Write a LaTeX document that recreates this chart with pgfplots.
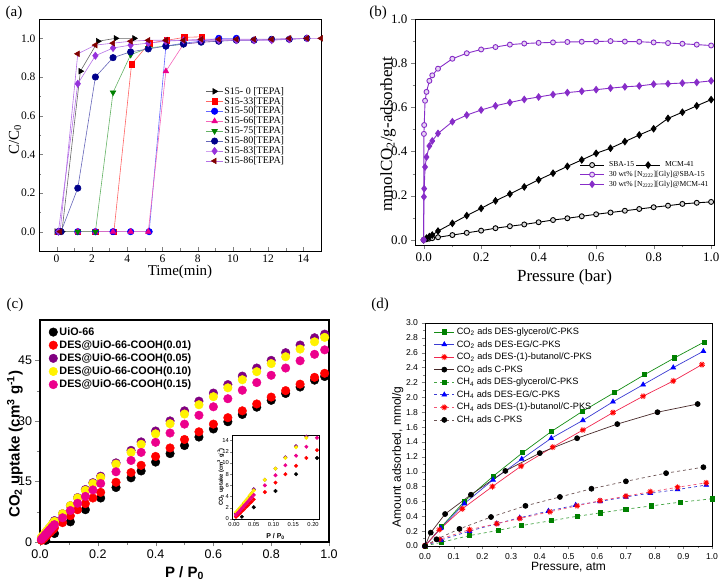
\documentclass[border=0pt]{standalone}
\usepackage{fontspec}
\setmainfont{Liberation Serif}
\newfontfamily\arial{Liberation Sans}
\usepackage{pgfplots}
\pgfplotsset{compat=1.18}
\usepackage{pgfplotstable}
\usetikzlibrary{plotmarks}
\newcommand{\fs}[1]{\fontsize{#1}{#1}\selectfont}

\definecolor{cnavy}{RGB}{0,0,139}
\definecolor{cviol}{RGB}{150,50,220}
\definecolor{cmaroon}{RGB}{128,0,0}
\definecolor{cgreen}{RGB}{0,128,0}
\definecolor{cpurpb}{RGB}{135,45,200}
\definecolor{cpurpc}{RGB}{128,0,128}
\definecolor{dgreen}{RGB}{20,140,20}
\definecolor{dblue}{RGB}{60,60,210}
\definecolor{dred}{RGB}{240,40,80}
\definecolor{dbrown}{RGB}{70,40,40}

% ---- panel (c) data ----
\pgfplotstableread{
x y
0.02 0.4
0.05 2.1
0.105 5.0
0.157 8.0
0.21 10.9
0.263 13.5
0.315 15.9
0.35 17.6
0.40 19.8
0.45 21.9
0.50 23.9
0.55 26.0
0.60 28.0
0.65 29.8
0.70 31.6
0.75 33.4
0.80 35.1
0.85 36.8
0.90 38.4
0.95 40.1
0.985 41.0
}\tUiO
\pgfplotstableread{
x y
0.005 0.4
0.01 0.7
0.015 1.0
0.02 1.4
0.025 1.7
0.03 2.1
0.035 2.4
0.04 2.8
0.045 3.1
0.05 3.5
0.078 4.8
0.105 6.5
0.13 8.0
0.157 9.5
0.183 10.9
0.21 12.3
0.263 14.8
0.315 17.2
0.35 19.0
0.40 21.2
0.45 23.3
0.50 25.4
0.55 27.3
0.60 29.2
0.65 30.8
0.70 32.5
0.75 34.2
0.80 35.9
0.85 37.5
0.90 39.1
0.95 40.8
0.985 41.8
}\tA
\pgfplotstableread{
x y
0.005 1.0
0.01 1.4
0.015 1.8
0.02 2.3
0.025 2.7
0.03 3.2
0.035 3.6
0.04 4.1
0.045 4.6
0.05 5.3
0.078 7.0
0.105 9.0
0.13 11.0
0.157 13.0
0.183 14.7
0.21 16.3
0.263 19.6
0.315 22.7
0.35 24.8
0.40 27.5
0.45 30.0
0.50 32.5
0.55 34.9
0.60 36.9
0.65 39.0
0.70 41.1
0.75 43.1
0.80 45.0
0.85 46.9
0.90 48.8
0.95 50.6
0.985 51.5
}\tB
\pgfplotstableread{
x y
0.005 1.2
0.01 1.6
0.015 2.0
0.02 2.4
0.025 2.9
0.03 3.3
0.035 3.7
0.04 4.2
0.045 4.6
0.05 5.1
0.078 7.0
0.105 9.0
0.13 10.9
0.157 12.8
0.183 14.5
0.21 16.0
0.263 19.3
0.315 22.2
0.35 24.2
0.40 26.8
0.45 29.3
0.50 31.7
0.55 34.0
0.60 36.0
0.65 38.2
0.70 40.2
0.75 42.2
0.80 44.2
0.85 45.9
0.90 47.8
0.95 49.6
0.985 50.7
}\tC
\pgfplotstableread{
x y
0.005 0.7
0.01 1.1
0.015 1.5
0.02 1.9
0.025 2.3
0.03 2.7
0.035 3.1
0.04 3.5
0.045 3.9
0.05 4.3
0.078 6.0
0.105 7.8
0.13 9.6
0.157 11.3
0.183 12.9
0.21 14.5
0.263 17.4
0.315 20.2
0.35 22.2
0.40 24.7
0.45 27.0
0.50 29.2
0.55 31.4
0.60 33.5
0.65 35.5
0.70 37.6
0.75 39.5
0.80 41.3
0.85 43.1
0.90 44.9
0.95 46.5
0.985 47.6
}\tD

\begin{document}
\begin{tikzpicture}
\path[use as bounding box] (0pt,0pt) rectangle (723pt,586pt);

\node[font=\fs{15}] at (14pt,573pt) {(a)};
\node[font=\fs{15}] at (378pt,573pt) {(b)};
\node[font=\fs{15}] at (15pt,281pt) {(c)};
\node[font=\fs{15}] at (380pt,281pt) {(d)};

% ================= (a) =================
\begin{axis}[
  at={(39pt,335pt)}, anchor=south west, scale only axis, width=282pt, height=232pt,
  xmin=-1, xmax=15, ymin=-0.1, ymax=1.1,
  xtick={0,2,...,14}, minor x tick num=1,
  ytick={0,0.2,0.4,0.6,0.8,1.0}, minor y tick num=1,
  tick align=inside, xtick pos=bottom, ytick pos=left,
  major tick length=4pt, minor tick length=2.5pt,
  axis line style={line width=0.9pt},
  ticklabel style={font=\fs{11.5}},
  /pgf/number format/assume math mode=true,
  yticklabel style={/pgf/number format/.cd, fixed, fixed zerofill, precision=1},
  xlabel={Time(min)}, ylabel={C/C\textsubscript{0}},
  xlabel style={font=\fs{15}, at={(axis description cs:0.5,-0.09)}, anchor=center},
  ylabel style={font=\fs{15}, at={(axis description cs:-0.085,0.48)}, anchor=center},
  legend style={at={(0.58,0.72)}, anchor=north west, draw=none, fill=none, font=\fs{10}, nodes={inner sep=1pt}, row sep=-0.5pt},
  legend cell align=left,
  every axis plot/.append style={line width=0.6pt, mark size=3.2pt},
]
\addplot[color=black!60, mark=triangle*, mark options={draw=black, fill=black, rotate=-90}]
 coordinates {(0,0)(0.15,0)(0.3,0)(1.35,0.83)(2.35,0.985)(3.35,1.0)(4.4,1.0)};
\addlegendentry{S15- 0 [TEPA]}
\addplot[color=red!60, mark=square*, mark size=2.7pt, mark options={draw=red, fill=red}]
 coordinates {(0.1,0)(1.2,0)(2.2,0)(3.25,0)(4.25,0.865)(5.25,0.975)(6.25,0.99)(7.25,1.005)(8.25,1.008)};
\addlegendentry{S15-33[TEPA]}
\addplot[color=blue!60, mark=*, mark options={draw=blue, fill=blue}]
 coordinates {(0.1,0)(1.2,0)(2.2,0)(3.2,0)(4.2,0)(5.25,0)(6.2,0.96)(7.2,0.975)(8.2,0.985)(9.2,1.0)(10.2,1.0)};
\addlegendentry{S15-50[TEPA]}
\addplot[color=magenta!60, mark=triangle*, mark options={draw=magenta, fill=magenta}]
 coordinates {(0.1,0)(1.2,0)(2.2,0)(3.2,0)(4.2,0)(5.2,0)(6.2,0.83)(7.2,0.97)(8.2,0.98)(9.2,0.985)};
\addlegendentry{S15-66[TEPA]}
\addplot[color=cgreen!60, mark=triangle*, mark options={draw=cgreen, fill=cgreen, rotate=180}]
 coordinates {(0.1,0)(1.2,0)(2.2,0)(3.2,0.72)(4.2,0.915)(5.2,0.95)(6.2,0.96)(7.2,0.97)};
\addlegendentry{S15-75[TEPA]}
\addplot[color=cnavy!60, mark=*, mark options={draw=cnavy, fill=cnavy}]
 coordinates {(0.1,0)(0.25,0)(1.2,0.225)(2.2,0.80)(3.2,0.90)(4.2,0.93)(5.2,0.945)(6.2,0.96)(7.2,0.97)(8.2,0.98)(9.2,0.985)(10.2,0.99)(11.2,0.99)(12.2,0.995)(13.2,0.995)(14.2,1.0)};
\addlegendentry{S15-80[TEPA]}
\addplot[color=cviol!70, mark=diamond*, mark size=3.6pt, mark options={draw=cviol, fill=cviol}]
 coordinates {(0.1,0)(1.2,0.765)(2.2,0.91)(3.2,0.95)(4.2,0.965)(5.2,0.975)(6.2,0.985)(7.2,0.99)(8.2,0.99)(9.2,0.99)(10.2,0.99)(11.2,0.99)(12.2,0.99)(13.2,0.995)(14.2,1.0)};
\addlegendentry{S15-83[TEPA]}
\addplot[color=cviol!70, mark=triangle*, mark options={draw=cmaroon, fill=cmaroon, rotate=90}]
 coordinates {(0.2,0)(1.2,0.92)(2.2,0.965)(3.2,0.975)(4.2,0.985)(5.2,0.99)(6.2,0.99)(7.2,0.99)(8.2,0.995)(9.2,0.995)(10.2,0.995)(11.2,0.995)(12.2,0.995)(13.2,1.0)(14.2,1.0)(15,1.0)};
\addlegendentry{S15-86[TEPA]}
\end{axis}

% ================= (b) =================
\begin{axis}[
  at={(415pt,341pt)}, anchor=south west, scale only axis, width=299pt, height=226pt,
  xmin=-0.03, xmax=1.01, ymin=-0.023, ymax=1.0,
  xtick={0,0.2,0.4,0.6,0.8,1.0}, minor x tick num=1,
  ytick={0,0.2,0.4,0.6,0.8,1.0}, minor y tick num=1,
  tick align=outside, xtick pos=bottom, ytick pos=left,
  major tick length=4pt, minor tick length=2.5pt,
  axis line style={line width=0.9pt},
  ticklabel style={font=\fs{13}},
  /pgf/number format/assume math mode=true,
  xticklabel style={/pgf/number format/.cd, fixed, fixed zerofill, precision=1},
  yticklabel style={/pgf/number format/.cd, fixed, fixed zerofill, precision=1},
  xlabel={Pressure (bar)}, ylabel={mmolCO\textsubscript{2}/g-adsorbent},
  xlabel style={font=\fs{17}, at={(axis description cs:0.5,-0.142)}, anchor=center},
  ylabel style={font=\fs{17}, at={(axis description cs:-0.09,0.49)}, anchor=center},
  legend columns=2,
  legend style={at={(0.54,0.385)}, anchor=north west, draw=none, fill=none, font=\fs{7.6}, nodes={inner sep=1.6pt}, row sep=-0.3pt,
    /tikz/every odd column/.append style={column sep=3pt}},
  legend cell align=left,
  legend image code/.code={\draw[mark repeat=2,mark phase=2,#1] plot coordinates {(0pt,0pt)(12pt,0pt)(24pt,0pt)};},
  every axis plot/.append style={line width=0.9pt},
]
\addplot[color=black, mark=*, mark size=2.5pt, mark options={fill=black!15, draw=black, line width=0.9pt}]
 coordinates {(0,0)(0.01,0.003)(0.02,0.006)(0.03,0.008)(0.05,0.012)(0.1,0.022)(0.15,0.032)(0.2,0.042)(0.25,0.053)(0.3,0.062)(0.35,0.07)(0.4,0.08)(0.45,0.09)(0.5,0.098)(0.55,0.107)(0.6,0.116)(0.65,0.124)(0.7,0.132)(0.75,0.14)(0.8,0.148)(0.85,0.155)(0.9,0.163)(0.95,0.168)(1.0,0.172)};
\addlegendentry{SBA-15}
\addplot[color=black, mark=diamond*, mark size=3.2pt, mark options={fill=black, draw=black}]
 coordinates {(0,0)(0.01,0.008)(0.02,0.015)(0.03,0.022)(0.05,0.04)(0.1,0.075)(0.15,0.11)(0.2,0.143)(0.25,0.177)(0.3,0.208)(0.35,0.24)(0.4,0.272)(0.45,0.302)(0.5,0.333)(0.55,0.362)(0.6,0.392)(0.65,0.415)(0.7,0.445)(0.75,0.475)(0.8,0.503)(0.85,0.55)(0.9,0.578)(0.95,0.607)(1.0,0.635)};
\addlegendentry{MCM-41}
\addplot[color=cpurpb, mark=*, mark size=2.5pt, mark options={fill=cpurpb!20, draw=cpurpb, line width=0.9pt}]
 coordinates {(0,0)(0.001,0.48)(0.002,0.52)(0.005,0.63)(0.01,0.67)(0.02,0.72)(0.03,0.745)(0.05,0.775)(0.1,0.82)(0.15,0.845)(0.2,0.862)(0.25,0.873)(0.3,0.884)(0.35,0.889)(0.4,0.892)(0.45,0.894)(0.5,0.896)(0.55,0.897)(0.6,0.898)(0.65,0.9)(0.7,0.898)(0.75,0.897)(0.8,0.894)(0.85,0.891)(0.9,0.888)(0.95,0.884)(1.0,0.88)};
\addlegendentry{\makebox[0pt][l]{30 wt\% [N\textsubscript{2222}][Gly]@SBA-15}}
\addlegendimage{empty legend}\addlegendentry{}
\addplot[color=cpurpb, mark=diamond*, mark size=3.2pt, mark options={fill=cpurpb, draw=cpurpb}]
 coordinates {(0,0)(0.001,0.195)(0.002,0.232)(0.005,0.33)(0.01,0.375)(0.02,0.425)(0.03,0.448)(0.05,0.482)(0.1,0.535)(0.15,0.565)(0.2,0.588)(0.25,0.607)(0.3,0.622)(0.35,0.636)(0.4,0.647)(0.45,0.658)(0.5,0.667)(0.55,0.673)(0.6,0.68)(0.65,0.687)(0.7,0.693)(0.75,0.697)(0.8,0.705)(0.85,0.707)(0.9,0.71)(0.95,0.713)(1.0,0.72)};
\addlegendentry{\makebox[0pt][l]{30 wt\% [N\textsubscript{2222}][Gly]@MCM-41}}
\addlegendimage{empty legend}\addlegendentry{}
\end{axis}

% ================= (c) =================
\begin{axis}[
  at={(40pt,44pt)}, anchor=south west, scale only axis, width=289pt, height=222pt,
  xmin=0, xmax=1, ymin=0, ymax=55,
  xtick={0,0.2,0.4,0.6,0.8,1.0}, minor x tick num=1,
  ytick={0,15,30,45}, minor y tick num=1,
  tick align=outside, xtick pos=bottom, ytick pos=left,
  major tick length=4.5pt, minor tick length=3pt,
  axis line style={line width=1.1pt},
  ticklabel style={font=\arial\fs{12.5}},
  /pgf/number format/assume math mode=true,
  xticklabel style={/pgf/number format/.cd, fixed, fixed zerofill, precision=1},
  xlabel={\bfseries P / P\textsubscript{0}}, ylabel={\bfseries CO\textsubscript{2} uptake (cm\textsuperscript{3} g\textsuperscript{-1})},
  xlabel style={font=\arial\fs{15}, at={(axis description cs:0.5,-0.14)}, anchor=center},
  ylabel style={font=\arial\fs{15}, at={(axis description cs:-0.087,0.44)}, anchor=center},
  legend style={at={(0.02,0.985)}, anchor=north west, draw=none, fill=none, font=\arial\bfseries\fs{10.8}, nodes={inner sep=1.9pt}, row sep=0pt},
  legend cell align=left,
  every axis plot/.append style={only marks, mark=*, mark size=4.3pt},
]
\addplot[black] table[x=x,y=y] {\tUiO};
\addlegendentry{UiO-66}
\addplot[red] table[x=x,y=y] {\tA};
\addlegendentry{DES@UiO-66-COOH(0.01)}
\addplot[cpurpc] table[x=x,y=y] {\tB};
\addlegendentry{DES@UiO-66-COOH(0.05)}
\addplot[yellow] table[x=x,y=y] {\tC};
\addlegendentry{DES@UiO-66-COOH(0.10)}
\addplot[magenta] table[x=x,y=y] {\tD};
\addlegendentry{DES@UiO-66-COOH(0.15)}
\end{axis}

% inset
\begin{axis}[
  at={(232pt,67pt)}, anchor=south west, scale only axis, width=87pt, height=84pt,
  axis background/.style={fill=white},
  xmin=-0.005, xmax=0.215, ymin=0, ymax=15,
  xtick={0,0.05,0.1,0.15,0.2},
  ytick={0,2,4,6,8,10,12,14},
  tick align=outside, xtick pos=bottom, ytick pos=left,
  major tick length=2pt,
  axis line style={line width=0.7pt},
  ticklabel style={font=\arial\fs{5.8}, inner sep=1pt},
  /pgf/number format/assume math mode=true,
  xticklabel style={/pgf/number format/.cd, fixed, fixed zerofill, precision=2},
  xlabel={\bfseries P / P\textsubscript{0}}, ylabel={\bfseries CO\textsubscript{2} uptake (cm\textsuperscript{3} g\textsuperscript{-1})},
  xlabel style={font=\arial\fs{7}, at={(axis description cs:0.5,-0.21)}, anchor=center},
  ylabel style={font=\arial\fs{5.8}, at={(axis description cs:-0.13,0.5)}, anchor=center},
  every axis plot/.append style={only marks, mark=*, mark size=1.8pt},
]
\addplot[black] table[x=x,y=y] {\tUiO};
\addplot[red] table[x=x,y=y] {\tA};
\addplot[cpurpc] table[x=x,y=y] {\tB};
\addplot[yellow] table[x=x,y=y] {\tC};
\addplot[magenta] table[x=x,y=y] {\tD};
\end{axis}

% ================= (d) =================
\begin{axis}[
  at={(425pt,40pt)}, anchor=south west, scale only axis, width=287pt, height=223pt,
  xmin=0, xmax=1, ymin=0, ymax=3,
  xtick={0,0.1,...,1.0}, minor x tick num=1,
  ytick={0,0.2,...,3.0}, minor y tick num=1,
  tick align=outside, xtick pos=bottom, ytick pos=left,
  major tick length=3.5pt, minor tick length=2pt,
  axis line style={line width=0.8pt},
  ticklabel style={font=\arial\fs{8.6}},
  /pgf/number format/assume math mode=true,
  xticklabel style={/pgf/number format/.cd, fixed, fixed zerofill, precision=1},
  yticklabel style={/pgf/number format/.cd, fixed, fixed zerofill, precision=1},
  xlabel={Pressure, atm}, ylabel={Amount adsorbed, mmol/g},
  xlabel style={font=\arial\fs{12}, at={(axis description cs:0.5,-0.094)}, anchor=center},
  ylabel style={font=\arial\fs{12}, at={(axis description cs:-0.095,0.40)}, anchor=center},
  legend style={at={(0.02,0.998)}, anchor=north west, draw=none, fill=none, font=\arial\fs{9.2}, nodes={inner sep=2.2pt}, row sep=0pt},
  legend cell align=left,
  legend image code/.code={\draw[mark repeat=2,mark phase=2,#1] plot coordinates {(0pt,0pt)(10pt,0pt)(20pt,0pt)};},
  every axis plot/.append style={line width=0.7pt},
]
\addplot[color=dgreen, mark=square*, mark size=2.1pt, mark options={fill=cgreen, draw=cgreen}]
 coordinates {(0,0)(0.058,0.26)(0.137,0.6)(0.238,0.94)(0.34,1.255)(0.44,1.54)(0.548,1.81)(0.66,2.065)(0.765,2.305)(0.869,2.53)(0.973,2.745)};
\addlegendentry{CO\textsubscript{2} ads DES-glycerol/C-PKS}
\addplot[color=dblue, mark=triangle*, mark size=2.7pt, mark options={fill=blue, draw=blue}]
 coordinates {(0,0)(0.055,0.24)(0.137,0.57)(0.237,0.89)(0.337,1.17)(0.44,1.45)(0.55,1.69)(0.655,1.94)(0.76,2.17)(0.865,2.40)(0.97,2.62)};
\addlegendentry{CO\textsubscript{2} ads DES-EG/C-PKS}
\addplot[color=dred, mark=10-pointed star, mark size=3pt, mark options={fill=red, draw=red}]
 coordinates {(0,0)(0.05,0.22)(0.13,0.5)(0.235,0.8)(0.335,1.075)(0.445,1.33)(0.55,1.56)(0.655,1.795)(0.76,2.015)(0.865,2.22)(0.965,2.44)};
\addlegendentry{CO\textsubscript{2} ads DES-(1)-butanol/C-PKS}
\addplot[color=dbrown, mark=*, mark size=2.5pt, mark options={fill=black, draw=black}]
 coordinates {(0,0)(0.02,0.18)(0.07,0.43)(0.16,0.69)(0.28,1.01)(0.40,1.25)(0.53,1.45)(0.67,1.64)(0.81,1.80)(0.95,1.91)};
\addlegendentry{CO\textsubscript{2} ads C-PKS}
\addplot[color=dgreen!80, dashed, mark=square*, mark size=2.1pt, mark options={solid, fill=cgreen, draw=cgreen}]
 coordinates {(0,0)(0.057,0.05)(0.155,0.14)(0.255,0.21)(0.335,0.275)(0.44,0.34)(0.53,0.40)(0.61,0.445)(0.70,0.495)(0.79,0.54)(0.89,0.59)(1.0,0.635)};
\addlegendentry{CH\textsubscript{4} ads DES-glycerol/C-PKS}
\addplot[color=dblue, dashed, mark=triangle*, mark size=2.7pt, mark options={solid, fill=blue, draw=blue}]
 coordinates {(0,0)(0.055,0.08)(0.155,0.2)(0.25,0.3)(0.33,0.38)(0.43,0.47)(0.525,0.55)(0.61,0.60)(0.70,0.66)(0.785,0.71)(0.88,0.76)(0.98,0.82)};
\addlegendentry{CH\textsubscript{4} ads DES-EG/C-PKS}
\addplot[color=dred!80, dashed, mark=10-pointed star, mark size=3pt, mark options={solid, fill=red, draw=red}]
 coordinates {(0,0)(0.05,0.09)(0.155,0.22)(0.25,0.30)(0.33,0.37)(0.435,0.46)(0.53,0.54)(0.61,0.61)(0.70,0.67)(0.785,0.73)(0.88,0.79)(0.98,0.85)};
\addlegendentry{CH\textsubscript{4} ads DES-(1)-butanol/C-PKS}
\addplot[color=dbrown!80, dashed, mark=*, mark size=2.5pt, mark options={solid, fill=black, draw=black}]
 coordinates {(0,0)(0.04,0.09)(0.12,0.23)(0.23,0.39)(0.35,0.54)(0.47,0.66)(0.58,0.77)(0.70,0.87)(0.84,0.98)(0.97,1.06)};
\addlegendentry{CH\textsubscript{4} ads C-PKS}
\end{axis}
\end{tikzpicture}
\end{document}
